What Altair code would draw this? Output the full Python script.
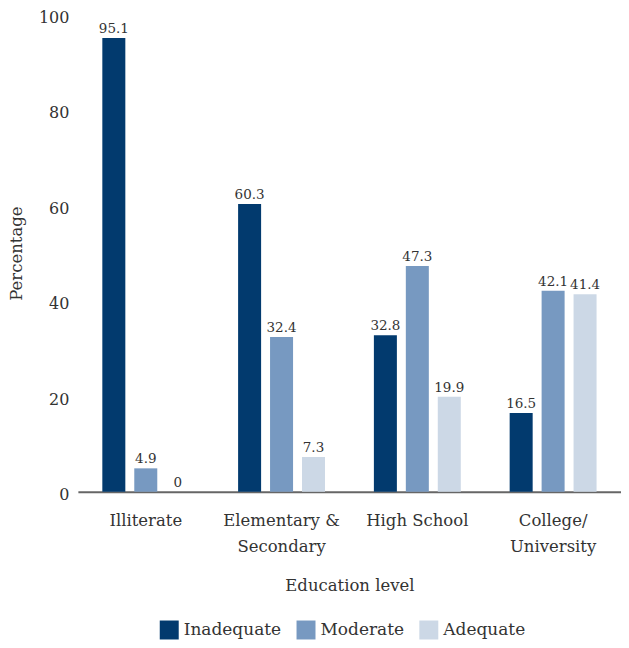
import altair as alt
import pandas as pd

categories = ["Illiterate", "Elementary & Secondary", "High School", "College/University"]
category_lines = [["Illiterate"], ["Elementary &", "Secondary"], ["High School"], ["College/", "University"]]
series = ["Inadequate", "Moderate", "Adequate"]
colors = ["#023a6e", "#7799c1", "#ccd8e6"]
inadequate = [95.1, 60.3, 32.8, 16.5]
moderate = [4.9, 32.4, 47.3, 42.1]
adequate = [0, 7.3, 19.9, 41.4]
y_ticks = [0, 20, 40, 60, 80, 100]

rows = []
for i, c in enumerate(categories):
    for s, vals in zip(series, [inadequate, moderate, adequate]):
        v = vals[i]
        rows.append({"Education": c, "Level": s, "Value": v,
                     "Label": ("%g" % v)})
df = pd.DataFrame(rows)

expr_parts = []
for c, lines in zip(categories, category_lines):
    arr = "[" + ",".join("'" + l + "'" for l in lines) + "]"
    expr_parts.append(f"datum.value == '{c}' ? {arr} : ")
label_expr = "".join(expr_parts) + "datum.label"

FONT = "DejaVu Serif"

x = alt.X("Education:N", sort=categories,
          scale=alt.Scale(paddingInner=0.36, paddingOuter=0.18),
          axis=alt.Axis(title="Education level", labelAngle=0, ticks=False,
                        domainColor="#666666", domainWidth=2,
                        labelFontSize=16.5, labelLineHeight=26, labelPadding=21,
                        labelExpr=label_expr, labelColor="#333333",
                        titleFontSize=16.5, titleFontWeight="normal",
                        titleColor="#333333", titlePadding=22))
xo = alt.XOffset("Level:N", sort=series,
                 scale=alt.Scale(paddingInner=0.28, paddingOuter=0))
y = alt.Y("Value:Q", scale=alt.Scale(domain=[0, 100], nice=False),
          axis=alt.Axis(title="Percentage", values=y_ticks, grid=False,
                        domain=False, ticks=False, labelFontSize=16,
                        labelPadding=9, labelOffset=3, labelColor="#333333",
                        titleFontSize=16.5, titleFontWeight="normal",
                        titleColor="#333333", titlePadding=14))
color = alt.Color("Level:N", sort=series,
                  scale=alt.Scale(domain=series, range=colors),
                  legend=alt.Legend(title=None, orient="none", direction="horizontal",
                                    legendX=82, legendY=607,
                                    symbolType="square", symbolSize=361,
                                    symbolStrokeWidth=0, symbolOpacity=1,
                                    labelFontSize=17, labelColor="#333333",
                                    labelOffset=5, columnPadding=15))

bars = alt.Chart(df).mark_bar().encode(x=x, xOffset=xo, y=y, color=color)
text = alt.Chart(df).mark_text(baseline="alphabetic", dy=-5, fontSize=13.5,
                               font=FONT, color="#333333").encode(
    x=x, xOffset=xo, y=y, text="Label:N")

chart = (bars + text).properties(
    width=544, height=478,
    padding={"top": 1, "left": 0, "right": 0, "bottom": 0},
).configure(font=FONT).configure_view(stroke=None)

chart.save("out.html", embed_options={"renderer": "svg", "actions": False})
